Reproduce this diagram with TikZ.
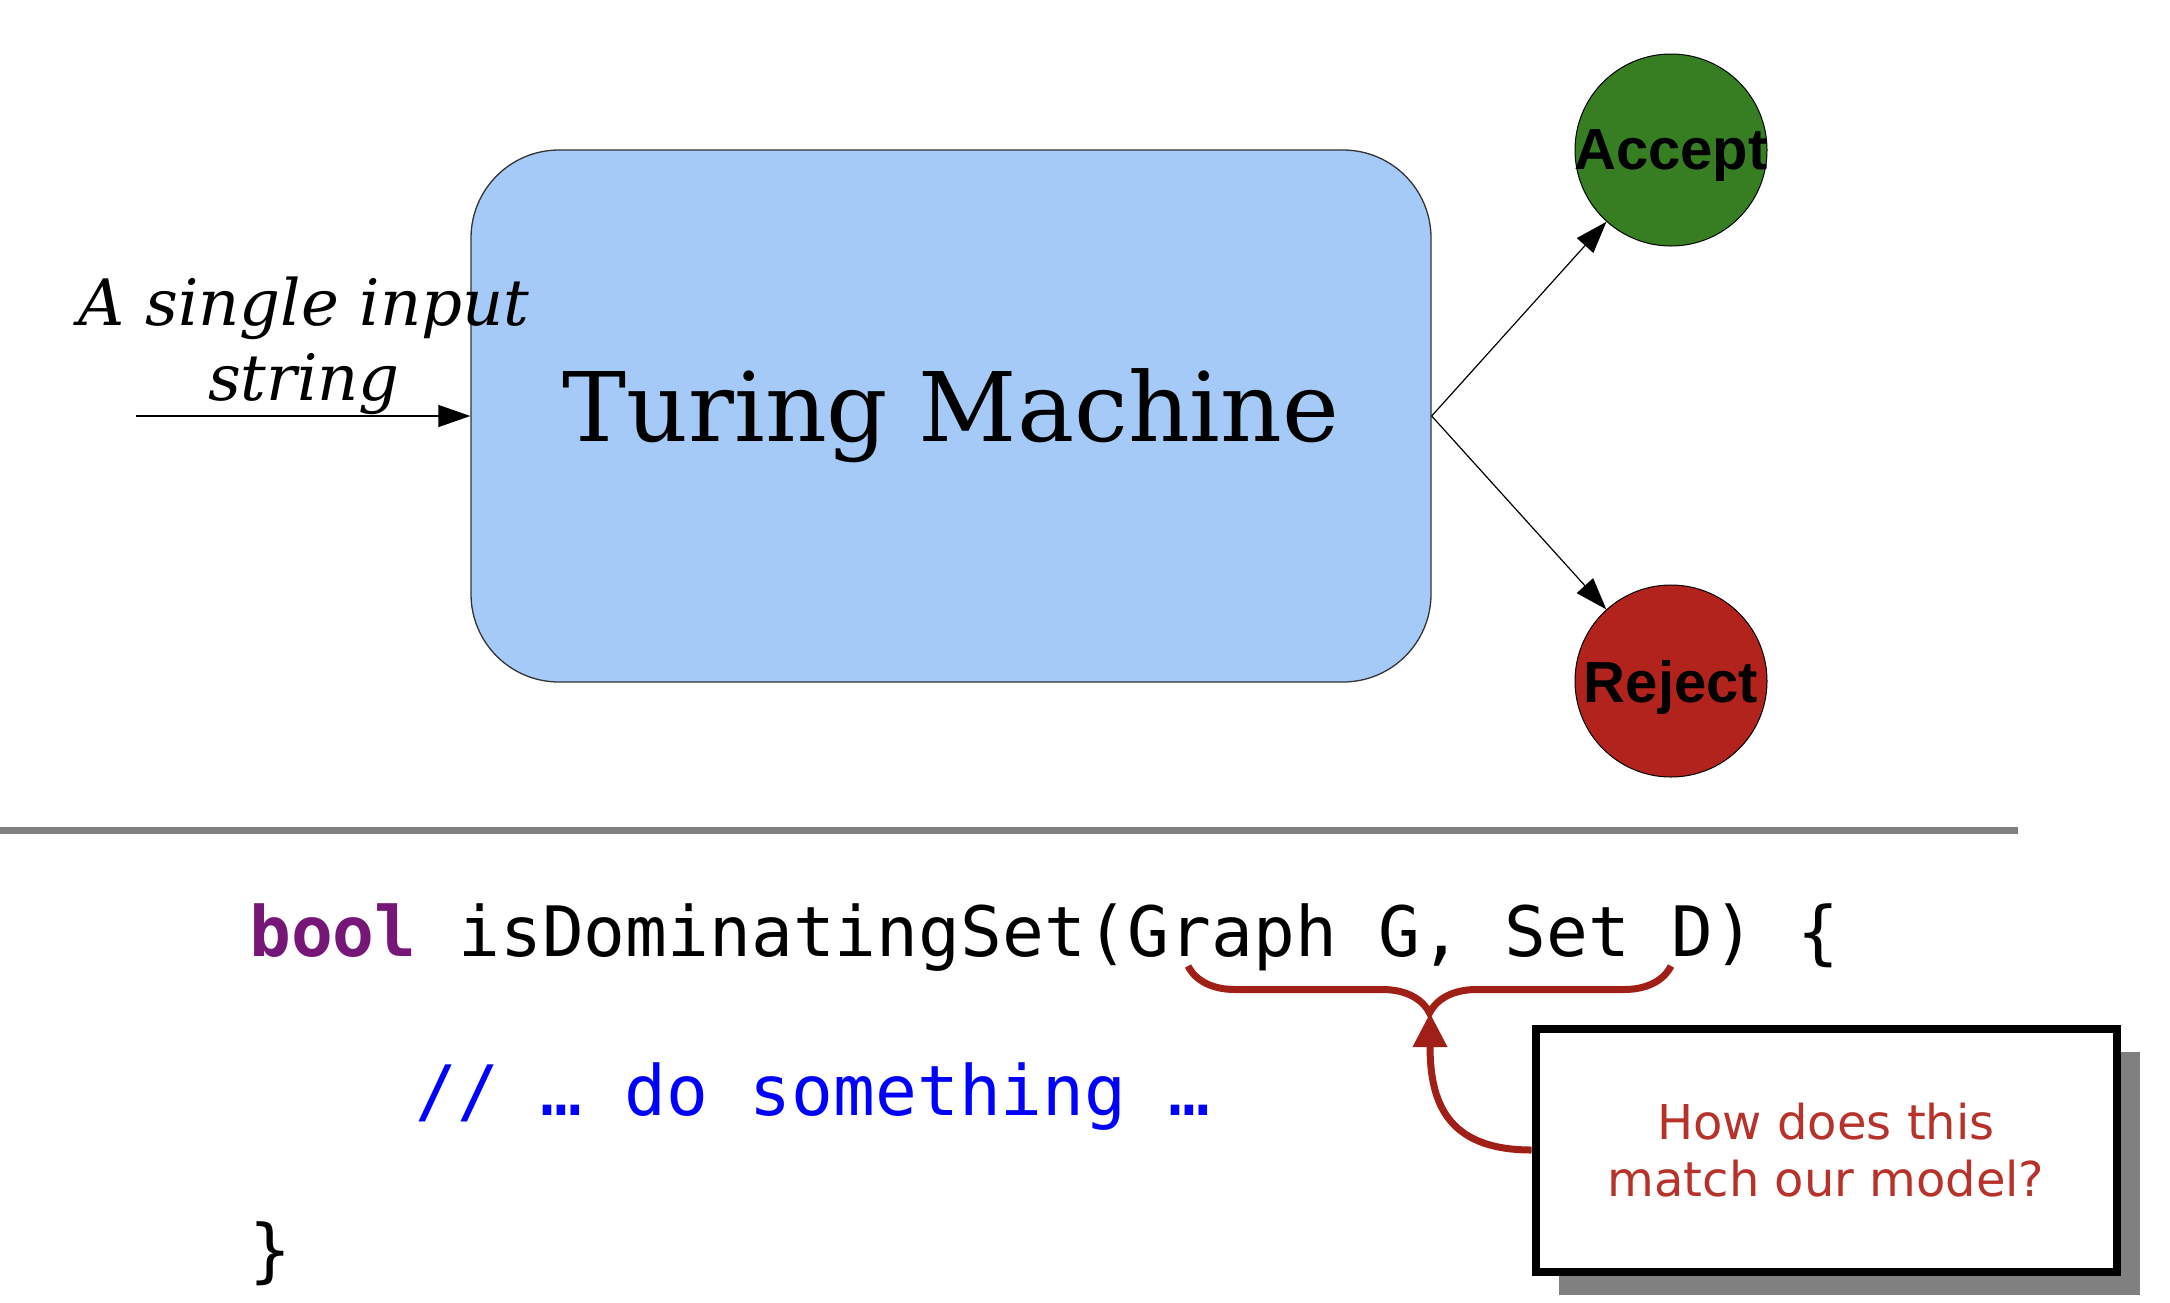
\documentclass[tikz,border=0pt]{standalone}
\usepackage{fontspec}
\usepackage{xcolor}
\usepackage{tikz}
\usetikzlibrary{shapes.geometric, arrows.meta, decorations.pathreplacing, shadows}
\setmainfont{DejaVu Serif}
\newfontfamily\codefont{DejaVu Sans Mono}
\newfontfamily\statefont{Liberation Sans}
\newfontfamily\notefont{DejaVu Sans}
\definecolor{tmblue}{RGB}{166,202,247}
\definecolor{acceptgreen}{RGB}{55,126,34}
\definecolor{rejectred}{RGB}{179,35,30}
\definecolor{keyword}{RGB}{118,22,118}
\definecolor{noteline}{RGB}{160,32,24}
\definecolor{notetext}{RGB}{183,50,42}
\tikzstyle{machine} = [rectangle, rounded corners=88, minimum width=960, minimum height=532, inner sep=0, draw=black!80, line width=1.3, fill=tmblue, font=\fontsize{96}{112}\selectfont]
\tikzstyle{outcome} = [circle, minimum size=192, inner sep=0, text depth=0pt, draw=black, line width=1, font=\statefont\bfseries\fontsize{58}{58}\selectfont]
\tikzstyle{codeline} = [anchor=base west, inner sep=0, font=\codefont\fontsize{69.5}{80}\selectfont]
\tikzstyle{notebox} = [rectangle, draw=black, line width=8, fill=white, minimum width=581, minimum height=243, align=center, text=notetext, font=\notefont\fontsize{48}{57}\selectfont, drop shadow={shadow xshift=23pt, shadow yshift=-23pt, fill=black!50, opacity=1}]
\tikzstyle{arrow} = [line width=1.2, -{Triangle[length=32pt, width=22pt]}]
\tikzstyle{notearrow} = [draw=noteline, line width=7, -{Triangle[length=34pt, width=33pt]}]

\begin{document}
\begin{tikzpicture}[x=1pt, y=-1pt]

		\useasboundingbox (0,0) rectangle (2170,1302);

		\node (tm) [machine] at (951,416) {Turing Machine};
		\node (accept) [outcome, fill=acceptgreen] at (1671,150) {\makebox[0pt]{Accept}};
		\node (reject) [outcome, fill=rejectred, node distance=531, below of=accept] {\makebox[0pt]{Reject}};
		\node (input) [font=\itshape\fontsize{64}{75}\selectfont, align=center, inner sep=0] at (304,346) {A single input\\string};
		\coordinate (start) at (136,416);

		\draw [arrow] (start) -- (tm.west);
		\draw [arrow] (tm.east) -- (accept);
		\draw [arrow] (tm.east) -- (reject);

		\draw [line width=7, black!50] (0,830) -- (2018,830);

		\node (code1) [codeline] at (249,956) {{\color{keyword}\bfseries bool} isDominatingSet(Graph G, Set D) \{};
		\node (code2) [codeline, text=blue] at (415,1115) {// … do something …};
		\node (code3) [codeline] at (249,1274) {\}};

		\coordinate (argleft) at (1188,966);
		\coordinate (argright) at (1671,966);
		\coordinate (tip) at (1430,1013);
		\draw [noteline, line width=7, decorate, decoration={brace, amplitude=47pt, mirror}] (argleft) -- (argright);

		\node (note) [notebox] at (1826,1150) {How does this\\match our model?};
		\draw [notearrow] (note.west) to[out=180, in=-90, looseness=1.3] (tip);

	\end{tikzpicture}
\end{document}
